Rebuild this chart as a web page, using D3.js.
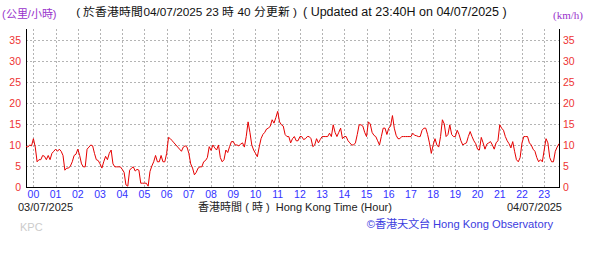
<!DOCTYPE html>
<html lang="zh-HK">
<head>
<meta charset="UTF-8">
<title>Wind speed - KPC</title>
<script src="https://cdn.jsdelivr.net/npm/d3@7"></script>
<style>
  body { margin: 0; background: #fff; }
  svg { display: block; font-family: "Liberation Sans", Arial, sans-serif; }
</style>
</head>
<body>
<svg id="chart" width="600" height="264"></svg>
<script>
// 5 minute readings, 23:40 03/07/2025 -> 23:40 04/07/2025 (km/h), one hour per row
var startTime = Date.UTC(2025, 6, 3, 23, 40);
var stepMinutes = 5;
var speeds = [
  9.7, 9.5, 10, 9.8, 11.5, 9.5, 6, 6.5, 6.5, 7.5, 7.3, 6.5,
  7.5, 6.5, 8, 8.5, 9, 8.5, 9, 8.5, 7.5, 4, 4.5, 4.5,
  5, 6, 7.5, 7.8, 9, 7.5, 5.5, 4.8, 4.8, 9, 9.5, 10,
  9.8, 8, 6.5, 6.3, 5.5, 4.5, 6, 7.3, 6.5, 8, 8.8, 5.5,
  4.8, 4.8, 4.8, 4.8, 4.2, 3.5, 0.5, 0.2, 4, 4.5, 4.8, 3.8,
  4.2, 4, 0.9, 0.9, 0.9, 0.9, 0.2, 3.7, 5, 6, 7.5, 6,
  6, 7.5, 6, 6, 8, 11.8, 11.5, 11, 10.5, 10, 9.5, 9,
  8.5, 9.5, 9.8, 9.5, 8, 5.5, 4.5, 2.9, 3.5, 4.5, 4.8, 4.8,
  6, 6.3, 7, 9.6, 8.7, 10, 9.3, 8.8, 10, 7, 6, 6.5,
  8.8, 8.2, 9.6, 10.8, 10.8, 10, 10, 9.8, 10.2, 10.5, 9.5, 12,
  15.5, 13, 10, 8.8, 8, 7.2, 9.5, 11.5, 12.5, 13, 13.8, 14,
  14.5, 16, 15.2, 16.5, 18, 15.5, 14.8, 14.5, 12.5, 12, 12, 10.5,
  11.5, 12, 11, 11, 12, 12, 11.3, 11.5, 12, 12, 11.5, 9.6,
  10, 11.5, 10.5, 11.3, 12, 12, 12, 12, 12.8, 12, 14.8, 13,
  12, 13, 14, 11.5, 12, 12, 11, 10.5, 10, 10, 10.5, 12.5,
  14.8, 14.8, 14.5, 13, 12, 15.5, 15, 13, 12.3, 12, 11, 10,
  12, 14, 14, 12.5, 14, 14.5, 17, 14, 12.3, 11.5, 11.5, 12,
  12, 12, 12, 12, 12, 12.8, 12.3, 12.2, 12, 12, 13.5, 14,
  14, 12.5, 10.5, 8, 10, 11.5, 10, 9.5, 12, 16, 15, 12,
  12.5, 14.8, 12.5, 12, 12, 13.5, 12.5, 11, 10, 10.3, 10.5, 12,
  13.2, 12, 11, 10.3, 9, 8.8, 11.8, 10.5, 9, 10.2, 10.5, 10.8,
  10, 9, 10.5, 11, 14.8, 14, 13.5, 12, 11, 10.3, 9.3, 10.8,
  8.5, 6.5, 6, 7, 10.5, 12, 12, 12, 10.5, 10, 9, 8.5,
  7, 6, 6.5, 6, 8.8, 11.5, 10.5, 7, 6, 6, 8.5, 9.5,
  10.3
];
var yTicks = [0, 5, 10, 15, 20, 25, 30, 35];
var unitZh = "(公里/小時)";
var unitEn = "(km/h)";
var titleZh = "( 於香港時間04/07/2025 23 時 40 分更新 )";
var titleEn = "( Updated at 23:40H on 04/07/2025 )";
var startDate = "03/07/2025";
var endDate = "04/07/2025";
var axisTitle = "香港時間 ( 時 )  Hong Kong Time (Hour)";
var station = "KPC";
var credit = "©香港天文台 Hong Kong Observatory";

var readings = speeds.map(function (v, i) {
  return { t: new Date(startTime + i * stepMinutes * 60000), v: v };
});

var plot = { left: 26, right: 559, top: 29, bottom: 187 };

var svg = d3.select("#chart");

var x = d3.scaleUtc()
  .domain([readings[0].t, readings[readings.length - 1].t])
  .range([plot.left, plot.right]);

var y = d3.scaleLinear()
  .domain([0, 37.6])
  .range([plot.bottom, plot.top]);

var hours = d3.utcHour.range(new Date(Date.UTC(2025, 6, 4, 0)), new Date(Date.UTC(2025, 6, 4, 23, 41)));

// grid
var grid = svg.append("g").attr("stroke", "#b4b4b4").attr("stroke-dasharray", "2,2");
grid.selectAll("line.v").data(hours).enter().append("line")
  .attr("x1", function (d) { return Math.round(x(d)) + 0.5; })
  .attr("x2", function (d) { return Math.round(x(d)) + 0.5; })
  .attr("y1", plot.top).attr("y2", plot.bottom);
grid.selectAll("line.h").data(yTicks.slice(1)).enter().append("line")
  .attr("x1", plot.left).attr("x2", plot.right)
  .attr("y1", function (d) { return Math.round(y(d)) + 0.5; })
  .attr("y2", function (d) { return Math.round(y(d)) + 0.5; });

// axes frame
var frame = svg.append("g").attr("stroke", "#000").attr("stroke-width", 1);
frame.append("line").attr("x1", plot.left + 0.5).attr("x2", plot.left + 0.5).attr("y1", plot.top).attr("y2", plot.bottom + 0.5);
frame.append("line").attr("x1", plot.right + 0.5).attr("x2", plot.right + 0.5).attr("y1", plot.top).attr("y2", plot.bottom + 0.5);
frame.append("line").attr("x1", plot.left).attr("x2", plot.right + 1).attr("y1", plot.bottom + 0.5).attr("y2", plot.bottom + 0.5);

// y labels
svg.append("g").selectAll("text").data(yTicks).enter().append("text")
  .attr("x", plot.left - 5).attr("y", function (d) { return y(d) + 4; })
  .attr("text-anchor", "end").attr("font-size", 10.5).attr("fill", "#ee3333")
  .text(function (d) { return d; });
svg.append("g").selectAll("text").data(yTicks).enter().append("text")
  .attr("x", plot.right + 4).attr("y", function (d) { return y(d) + 4; })
  .attr("font-size", 10.5).attr("fill", "#ee3333")
  .text(function (d) { return d; });

// x labels
svg.append("g").selectAll("text").data(hours).enter().append("text")
  .attr("x", function (d) { return x(d); }).attr("y", 197.5)
  .attr("text-anchor", "middle").attr("font-size", 10.5).attr("fill", "#3333ff")
  .text(d3.utcFormat("%H"));

// line
var line = d3.line()
  .x(function (d) { return x(d.t); })
  .y(function (d) { return y(d.v); });
svg.append("path").datum(readings)
  .attr("d", line)
  .attr("fill", "none").attr("stroke", "#e60000").attr("stroke-width", 1);

// texts
svg.append("text").attr("x", 2).attr("y", 18).attr("font-size", 11).attr("fill", "#9933cc").text(unitZh);
svg.append("text").attr("x", 553).attr("y", 19).attr("font-size", 11).attr("fill", "#9933cc")
  .attr("font-family", "Liberation Serif, serif").text(unitEn);
svg.append("text").attr("x", 297).attr("y", 16).attr("text-anchor", "end").attr("font-size", 11.8).attr("fill", "#111").text(titleZh);
svg.append("text").attr("x", 303).attr("y", 16).attr("font-size", 12.5).attr("fill", "#111").text(titleEn);
svg.append("text").attr("x", 18).attr("y", 211).attr("font-size", 11).attr("fill", "#222").text(startDate);
svg.append("text").attr("x", 562).attr("y", 211).attr("text-anchor", "end").attr("font-size", 11).attr("fill", "#222").text(endDate);
svg.append("text").attr("x", 295).attr("y", 211).attr("text-anchor", "middle").attr("font-size", 11).attr("fill", "#222")
  .attr("xml:space", "preserve").text(axisTitle);
svg.append("text").attr("x", 20).attr("y", 231).attr("font-size", 11).attr("fill", "#cccccc").text(station);
svg.append("text").attr("x", 553).attr("y", 228).attr("text-anchor", "end").attr("font-size", 11.2).attr("fill", "#3c3ce0").text(credit);
</script>
</body>
</html>
